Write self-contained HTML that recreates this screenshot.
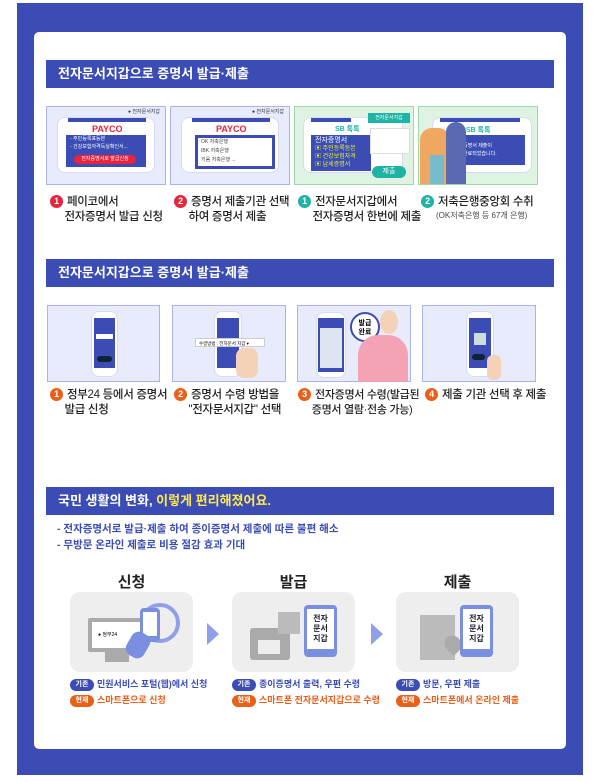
<!DOCTYPE html>
<html><head><meta charset="utf-8">
<style>
*{margin:0;padding:0;box-sizing:border-box}
body{width:600px;height:782px;background:#fff;position:relative;overflow:hidden;font-family:"Liberation Sans","Noto Sans CJK KR",sans-serif}
.a{position:absolute}
.outer{left:17px;top:3px;width:566px;height:772px;background:#3b4db4}
.inner{left:34px;top:32px;width:532px;height:717px;background:#fff;border-radius:5px}
.hdr{left:46px;width:508px;height:28px;background:#3b4db4;color:#fff;font-size:13px;font-weight:bold;line-height:28px;padding-left:12px}
.pan{border:1px solid #aab3ee;background:#e8ebfc}
.pang{border:1px solid #9fd8a8;background:#dff3e3}
.phone{background:#fff;border-radius:8px;border:1px solid #d6daf2}
.scr{background:#3b4db4}
.lbl{font-size:11.5px;color:#222;line-height:15px;font-weight:500;letter-spacing:-0.3px}
.num{display:inline-block;width:13px;height:13px;border-radius:50%;color:#fff;font-size:9px;text-align:center;line-height:13px;margin-right:4px;vertical-align:1px;font-weight:bold}
.r{background:#e8233b}.t{background:#1fb3a6}.o{background:#e8601a}
.tag{display:inline-block;width:24px;height:12px;border-radius:6px;color:#fff;font-size:7px;text-align:center;line-height:12px;margin-right:3px;vertical-align:1px}
.leg{font-size:9px;line-height:16px;font-weight:bold}
.box{background:#eeeeee;border-radius:10px;top:592px;width:123px;height:80px}
.ttl{font-size:15px;font-weight:bold;color:#222;top:571px;text-align:center;width:123px}
</style></head><body>
<div class="a outer"></div>
<div class="a inner"></div>

<div class="a hdr" style="top:60px">전자문서지갑으로 증명서 발급·제출</div>
<div class="a pan" style="left:46px;top:106px;width:120px;height:79px"></div>
<div class="a phone" style="left:57px;top:117px;width:98px;height:56px"></div>
<div class="a" style="left:68px;top:118px;width:78px;height:4px;background:#3b4db4"></div>
<div class="a" style="left:92px;top:124px;font-size:9px;font-weight:bold;color:#e8233b">PAYCO</div>
<div class="a scr" style="left:66px;top:135px;width:80px;height:32px"></div>
<div class="a" style="left:70px;top:135px;font-size:5px;color:#fff;line-height:8px">- 주민등록표등본<br>- 건강보험자격득실확인서...</div>
<div class="a" style="left:74px;top:155px;width:62px;height:9px;background:#e8233b;border-radius:5px;font-size:5px;color:#fff;text-align:center;line-height:9px">전자증명서로 발급신청</div>
<div class="a" style="left:128px;top:108px;font-size:5px;color:#333">● 전자문서지갑</div>

<div class="a pan" style="left:170px;top:106px;width:120px;height:79px"></div>
<div class="a phone" style="left:181px;top:117px;width:98px;height:56px"></div>
<div class="a" style="left:192px;top:118px;width:78px;height:4px;background:#3b4db4"></div>
<div class="a" style="left:216px;top:124px;font-size:9px;font-weight:bold;color:#e8233b">PAYCO</div>
<div class="a scr" style="left:195px;top:135px;width:80px;height:34px"></div>
<div class="a" style="left:198px;top:138px;width:74px;height:28px;background:#fff;font-size:5px;line-height:9px;padding-left:3px;color:#444">OK 저축은행<br>IBK 저축은행<br>키움 저축은행 ...</div>
<div class="a" style="left:252px;top:108px;font-size:5px;color:#333">● 전자문서지갑</div>

<div class="a pang" style="left:294px;top:106px;width:120px;height:79px"></div>
<div class="a phone" style="left:303px;top:117px;width:100px;height:56px"></div>
<div class="a" style="left:311px;top:118px;width:40px;height:4px;background:#3b4db4"></div>
<div class="a" style="left:335px;top:124px;font-size:7px;color:#1fb3a6;font-weight:bold">SB 톡톡</div>
<div class="a scr" style="left:311px;top:135px;width:60px;height:36px;font-size:6px;color:#ee3;line-height:8px;padding:2px 4px"><span style="color:#fff;font-size:7px">전자증명서</span><br>▣ 주민등록등본<br>▣ 건강보험자격<br>▣ 납세증명서</div>
<div class="a" style="left:368px;top:113px;width:42px;height:10px;background:#1fb3a6;font-size:5px;color:#fff;line-height:10px;text-align:center">전자문서지갑</div>
<div class="a" style="left:370px;top:128px;width:40px;height:26px;background:#fff;border:1px solid #ddd"></div>
<div class="a" style="left:372px;top:166px;width:34px;height:12px;background:#1fb3a6;border-radius:6px;font-size:7px;color:#fff;text-align:center;line-height:12px">제출</div>

<div class="a pang" style="left:418px;top:106px;width:120px;height:79px"></div>
<div class="a phone" style="left:432px;top:117px;width:100px;height:56px"></div>
<div class="a" style="left:440px;top:118px;width:80px;height:4px;background:#3b4db4"></div>
<div class="a" style="left:466px;top:125px;font-size:7px;color:#1fb3a6;font-weight:bold">SB 톡톡</div>
<div class="a scr" style="left:453px;top:135px;width:72px;height:30px;font-size:5px;color:#fff;padding:7px 0 0 10px;line-height:8px">증명서 제출이<br>완료되었습니다.</div>
<div class="a" style="left:420px;top:128px;width:30px;height:56px;background:#f0a860;border-radius:12px 12px 0 0"></div>
<div class="a" style="left:446px;top:122px;width:20px;height:62px;background:#5a6ab0;border-radius:10px 10px 0 0"></div>
<div class="a" style="left:430px;top:155px;width:14px;height:29px;background:#7bc"></div>

<div class="a lbl" style="left:50px;top:195px"><span class="num r">1</span>페이코에서<br>&nbsp;&nbsp;&nbsp;&nbsp;&nbsp;전자증명서 발급 신청</div>
<div class="a lbl" style="left:174px;top:195px"><span class="num r">2</span>증명서 제출기관 선택<br>&nbsp;&nbsp;&nbsp;&nbsp;&nbsp;하여 증명서 제출</div>
<div class="a lbl" style="left:298px;top:195px"><span class="num t">1</span>전자문서지갑에서<br>&nbsp;&nbsp;&nbsp;&nbsp;&nbsp;전자증명서 한번에 제출</div>
<div class="a lbl" style="left:421px;top:195px"><span class="num t">2</span>저축은행중앙회 수취</div>
<div class="a" style="left:436px;top:210px;font-size:8px;color:#444">(OK저축은행 등 67개 은행)</div>

<div class="a hdr" style="top:259px">전자문서지갑으로 증명서 발급·제출</div>
<div class="a pan" style="left:47px;top:305px;width:113px;height:77px"></div>
<div class="a phone" style="left:91px;top:311px;width:27px;height:66px"></div>
<div class="a scr" style="left:94px;top:318px;width:21px;height:50px"></div>
<div class="a" style="left:96px;top:334px;width:17px;height:5px;background:#fff"></div>
<div class="a" style="left:97px;top:356px;width:15px;height:6px;background:#123;border-radius:3px"></div>

<div class="a pan" style="left:172px;top:305px;width:114px;height:77px"></div>
<div class="a phone" style="left:214px;top:311px;width:28px;height:66px"></div>
<div class="a scr" style="left:217px;top:318px;width:22px;height:50px"></div>
<div class="a" style="left:195px;top:338px;width:70px;height:9px;background:#fff;font-size:4.5px;line-height:9px;padding-left:3px;border:1px solid #ccc">수령방법 : 전자문서 지갑 ▾</div>
<div class="a" style="left:236px;top:348px;width:22px;height:30px;background:#f4d2b8;border-radius:8px"></div>

<div class="a pan" style="left:297px;top:305px;width:114px;height:77px"></div>
<div class="a phone" style="left:316px;top:312px;width:30px;height:66px"></div>
<div class="a scr" style="left:318px;top:318px;width:26px;height:54px"></div>
<div class="a" style="left:320px;top:328px;width:22px;height:40px;background:#dbe6f0"></div>
<div class="a" style="left:350px;top:312px;width:30px;height:30px;background:#fff;border:2px solid #3b4db4;border-radius:50%;font-size:7px;font-weight:bold;text-align:center;line-height:9px;padding-top:5px">발급<br>완료</div>
<div class="a" style="left:358px;top:335px;width:50px;height:47px;background:#f3a3b4;border-radius:20px 20px 0 0"></div>
<div class="a" style="left:380px;top:310px;width:18px;height:24px;background:#f4d2b8;border-radius:50%"></div>

<div class="a pan" style="left:422px;top:305px;width:114px;height:77px"></div>
<div class="a phone" style="left:466px;top:311px;width:28px;height:66px"></div>
<div class="a scr" style="left:469px;top:318px;width:22px;height:50px"></div>
<div class="a" style="left:474px;top:333px;width:12px;height:12px;background:#cdd"></div>
<div class="a" style="left:472px;top:354px;width:13px;height:6px;background:#123;border-radius:3px"></div>
<div class="a" style="left:487px;top:355px;width:14px;height:25px;background:#f4d2b8;border-radius:6px"></div>

<div class="a lbl" style="left:50px;top:388px"><span class="num o">1</span>정부24 등에서 증명서<br>&nbsp;&nbsp;&nbsp;&nbsp;&nbsp;발급 신청</div>
<div class="a lbl" style="left:174px;top:388px"><span class="num o">2</span>증명서 수령 방법을<br>&nbsp;&nbsp;&nbsp;&nbsp;&nbsp;"전자문서지갑" 선택</div>
<div class="a lbl" style="left:298px;top:388px;font-size:11px"><span class="num o">3</span>전자증명서 수령(발급된<br>&nbsp;&nbsp;&nbsp;&nbsp;&nbsp;증명서 열람·전송 가능)</div>
<div class="a lbl" style="left:425px;top:388px"><span class="num o">4</span>제출 기관 선택 후 제출</div>

<div class="a hdr" style="top:487px">국민 생활의 변화, <span style="color:#ffe94a">이렇게 편리해졌어요.</span></div>
<div class="a" style="left:57px;top:521px;font-size:10.5px;color:#3b4db4;font-weight:bold;line-height:16px">- 전자증명서로 발급·제출 하여 종이증명서 제출에 따른 불편 해소<br>- 무방문 온라인 제출로 비용 절감 효과 기대</div>

<div class="a ttl" style="left:70px">신청</div>
<div class="a ttl" style="left:232px">발급</div>
<div class="a ttl" style="left:396px">제출</div>
<div class="a box" style="left:70px"></div>
<div class="a box" style="left:232px"></div>
<div class="a box" style="left:396px"></div>
<div class="a" style="left:88px;top:618px;width:56px;height:34px;background:#aaa;border-radius:2px"></div>
<div class="a" style="left:92px;top:622px;width:48px;height:26px;background:#fff;font-size:5px;line-height:26px;padding-left:6px">● 정부24</div>
<div class="a" style="left:105px;top:652px;width:24px;height:10px;background:#aaa"></div>
<div class="a" style="left:140px;top:603px;width:40px;height:40px;border:4px solid #8fa0e8;border-radius:50%"></div>
<div class="a" style="left:140px;top:608px;width:20px;height:34px;background:#7b8fe0;border-radius:4px"></div>
<div class="a" style="left:143px;top:612px;width:14px;height:24px;background:#fff"></div>
<div class="a" style="left:128px;top:632px;width:20px;height:26px;background:#7b8fe0;border-radius:8px;transform:rotate(30deg)"></div>
<div class="a" style="left:250px;top:628px;width:40px;height:32px;background:#aaa;border-radius:3px"></div>
<div class="a" style="left:258px;top:640px;width:22px;height:14px;background:#eee"></div>
<div class="a" style="left:278px;top:612px;width:22px;height:22px;background:#bbb"></div>
<div class="a" style="left:304px;top:605px;width:33px;height:52px;background:#7b8fe0;border-radius:4px"></div>
<div class="a" style="left:307px;top:609px;width:27px;height:40px;background:#fff;font-size:8px;font-weight:bold;color:#223;text-align:center;line-height:10px;padding-top:5px">전자<br>문서<br>지갑</div>
<div class="a" style="left:420px;top:615px;width:35px;height:45px;background:#bbb"></div>
<div class="a" style="left:445px;top:635px;width:16px;height:18px;background:#aaa;border-radius:50% 50% 50% 0;transform:rotate(-45deg)"></div>
<div class="a" style="left:460px;top:605px;width:33px;height:52px;background:#7b8fe0;border-radius:4px"></div>
<div class="a" style="left:463px;top:609px;width:27px;height:40px;background:#fff;font-size:8px;font-weight:bold;color:#223;text-align:center;line-height:10px;padding-top:5px">전자<br>문서<br>지갑</div>
<div class="a" style="left:207px;top:623px;width:0;height:0;border-left:12px solid #8fa0e8;border-top:11px solid transparent;border-bottom:11px solid transparent"></div>
<div class="a" style="left:371px;top:623px;width:0;height:0;border-left:12px solid #8fa0e8;border-top:11px solid transparent;border-bottom:11px solid transparent"></div>

<div class="a leg" style="left:70px;top:676px"><span class="tag" style="background:#3b4db4">기존</span><span style="color:#3b4db4">민원서비스 포털(웹)에서 신청</span><br><span class="tag" style="background:#e8601a">현재</span><span style="color:#e8601a">스마트폰으로 신청</span></div>
<div class="a leg" style="left:232px;top:676px"><span class="tag" style="background:#3b4db4">기존</span><span style="color:#3b4db4">종이증명서 출력, 우편 수령</span><br><span class="tag" style="background:#e8601a">현재</span><span style="color:#e8601a">스마트폰 전자문서지갑으로 수령</span></div>
<div class="a leg" style="left:396px;top:676px"><span class="tag" style="background:#3b4db4">기존</span><span style="color:#3b4db4">방문, 우편 제출</span><br><span class="tag" style="background:#e8601a">현재</span><span style="color:#e8601a">스마트폰에서 온라인 제출</span></div>
</body></html>
